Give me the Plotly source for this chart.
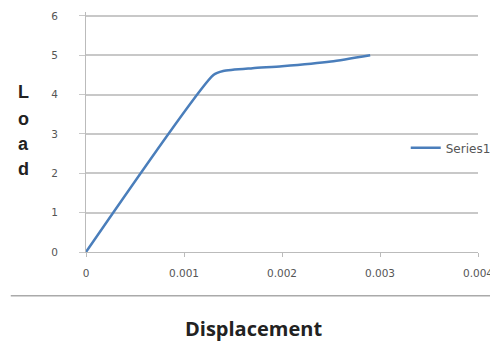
import plotly.graph_objects as go

displacement = [0, 0.0013, 0.0014, 0.0017, 0.002, 0.0025, 0.0029]
load = [0, 4.5, 4.6, 4.67, 4.72, 4.84, 5.0]
x_ticks = [0, 0.001, 0.002, 0.003, 0.004]
x_tick_labels = ["0", "0.001", "0.002", "0.003", "0.004"]
y_ticks = [0, 1, 2, 3, 4, 5, 6]
series_name = "Series1"
x_title = "Displacement"
y_title_letters = ["L", "o", "a", "d"]

fig = go.Figure()
fig.add_trace(go.Scatter(
    x=displacement, y=load, mode="lines", name=series_name,
    line=dict(color="#4A7EBB", width=2.5, shape="spline", smoothing=0.6),
))

# page body has an 8px margin, so figure coordinates = page coordinates - 8
OFF = 8
W, H = 490, 335
ml, mr, mt, mb = 78, 16, 2, 91
pw, ph = W - ml - mr, H - mt - mb


def px(xp):
    return (xp - OFF - ml) / pw


def py(yp):
    return ((H - mb) - (yp - OFF)) / ph


fig.update_layout(
    width=W, height=H,
    margin=dict(l=ml, r=mr, t=mt, b=mb),
    paper_bgcolor="white", plot_bgcolor="white",
    font=dict(family="DejaVu Sans, sans-serif", color="#555555", size=10),
    showlegend=True,
    legend=dict(x=px(409), y=py(147), xanchor="left", yanchor="middle",
                bgcolor="rgba(0,0,0,0)", font=dict(size=12, color="#555555"),
                itemwidth=30),
    xaxis=dict(range=[0, 0.004], tickvals=x_ticks, ticktext=x_tick_labels,
               showgrid=False, zeroline=False, showline=True, linecolor="#BBBBBB",
               linewidth=1, ticks="outside", ticklen=4, tickcolor="#BBBBBB",
               ticklabelstandoff=7, tickfont=dict(size=10.5),
               ticklabeloverflow="allow"),
    yaxis=dict(range=[0, 6.1], tickvals=y_ticks, showgrid=True, gridcolor="#C8C8C8",
               gridwidth=1.5, zeroline=False, showline=True, linecolor="#BBBBBB",
               linewidth=1, ticks="outside", ticklen=6, tickcolor="#C8C8C8",
               ticklabelstandoff=19, tickfont=dict(size=10.5),
               ticklabeloverflow="allow"),
)

# separator line
fig.add_shape(type="line", xref="paper", yref="paper",
              x0=px(10), x1=px(506), y0=py(296), y1=py(296),
              line=dict(color="#AAAAAA", width=1.5))

fig.add_annotation(text=x_title, xref="paper", yref="paper",
                   x=px(255), y=py(329), borderpad=0,
                   showarrow=False, xanchor="center", yanchor="middle",
                   font=dict(size=20, color="#222222",
                             family="Open Sans, Liberation Sans, sans-serif", weight="bold"))

letter_y = [91, 118, 143, 168]
for letter, yp in zip(y_title_letters, letter_y):
    fig.add_annotation(text=letter, xref="paper", yref="paper",
                       x=px(23), y=py(yp),
                       showarrow=False, xanchor="center", yanchor="middle",
                       font=dict(size=18, color="#222222",
                                 family="Liberation Sans, Arial, sans-serif", weight="bold"))

fig.write_html("out.html")
